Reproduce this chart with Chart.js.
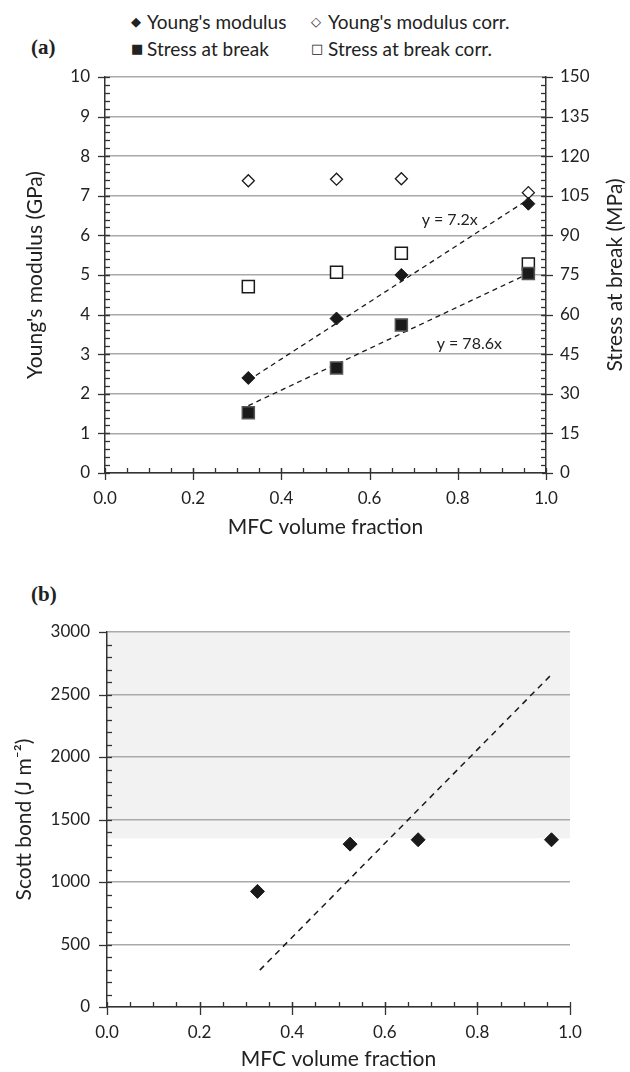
<!DOCTYPE html>
<html>
<head>
<meta charset="utf-8">
<script src="https://cdn.jsdelivr.net/npm/chart.js@4.4.1/dist/chart.umd.min.js"></script>
<style>
  body{margin:0;width:630px;height:1072px;background:#fff;position:relative;overflow:hidden;font-family:Lato,sans-serif;color:#222}
  canvas{position:absolute;left:0}
  #chA{top:0}
  #chB{top:560px}
  .tag{position:absolute;left:31px;font-family:"Liberation Serif",serif;font-weight:bold;font-size:21px;line-height:1}
  .leg{position:absolute;font-size:19px;line-height:1;white-space:nowrap}
  .sym{position:absolute;font-family:"DejaVu Sans",sans-serif;font-size:13px;line-height:1}
</style>
</head>
<body>
<span class="tag" style="top:37px">(a)</span>
<span class="tag" style="top:584px">(b)</span>

<span class="sym" style="left:131px;top:15px">◆</span><span class="leg" style="left:147px;top:12px">Young's modulus</span>
<span class="sym" style="left:311px;top:15px">◇</span><span class="leg" style="left:328px;top:12px">Young's modulus corr.</span>
<span class="sym" style="left:131px;top:42px">■</span><span class="leg" style="left:147px;top:39px">Stress at break</span>
<span class="sym" style="left:311px;top:42px">□</span><span class="leg" style="left:328px;top:39px">Stress at break corr.</span>

<canvas id="chA" width="630" height="550"></canvas>
<canvas id="chB" width="630" height="512"></canvas>

<script>
// ---- data ----
const fracX        = [0.325, 0.525, 0.672, 0.96];      // MFC volume fraction
const youngs       = [2.4, 3.9, 5.0, 6.8];             // GPa
const youngsCorr   = [7.38, 7.42, 7.43, 7.08];         // GPa
const stress       = [22.8, 39.8, 56.1, 75.6];         // MPa
const stressCorr   = [70.6, 76.0, 83.2, 79.2];         // MPa
const fitX         = [0.325, 0.96];
const youngsFit    = [2.34, 6.91];                     // y = 7.2x
const stressFit    = [25.5, 75.5];                     // y = 78.6x
const scott        = [925, 1303, 1338, 1338];          // J m-2
const scottFitX    = [0.33, 0.96];
const scottFit     = [295, 2660];
const scottBand    = [1350, 3000];                     // shaded range
const fracTicks    = [0, 0.2, 0.4, 0.6, 0.8, 1.0];

const pts = (xs, ys) => xs.map((x, i) => ({x, y: ys[i]}));
const INK = '#1a1a1a', GRID = '#a9a9a9', AXIS = '#333';
const tickFont = {family: 'Lato', size: 17};
const titleFont = {family: 'Lato', size: 21};

// tick marks: major crossing the axis, minor ones inside
const tickMarks = {
  id: 'tickMarks',
  afterDraw(chart, args, opts){
    const ctx = chart.ctx;
    ctx.save(); ctx.strokeStyle = AXIS; ctx.lineWidth = 1.3;
    for (const sp of opts.axes || []){
      const s = chart.scales[sp.id];
      const horiz = s.isHorizontal();
      const base = horiz ? s.top : (s.position === 'left' ? s.right : s.left);
      const dir = horiz ? 1 : (s.position === 'left' ? -1 : 1);
      const mark = (v, out, inn) => {
        const p = Math.round(s.getPixelForValue(v)) + 0.5;
        ctx.beginPath();
        if (horiz){ ctx.moveTo(p, base - inn); ctx.lineTo(p, base + out); }
        else { ctx.moveTo(base - dir*inn, p); ctx.lineTo(base + dir*out, p); }
        ctx.stroke();
      };
      s.ticks.forEach(t => mark(t.value, sp.out, sp.inn));
      const n = Math.round((s.max - s.min) / sp.minor);
      for (let i = 1; i < n; i++) mark(s.min + i*sp.minor, 0, sp.minorLen);
    }
    ctx.restore();
  }
};

// text next to the fitted lines
const fitLabels = {
  id: 'fitLabels',
  afterDatasetsDraw(chart, args, opts){
    const ctx = chart.ctx;
    ctx.save(); ctx.fillStyle = '#222'; ctx.font = '16px Lato'; ctx.textBaseline = 'middle';
    for (const l of opts.items || []){
      ctx.fillText(l.text, chart.scales.x.getPixelForValue(l.x), chart.scales[l.axis].getPixelForValue(l.y));
    }
    ctx.restore();
  }
};

// right-hand axis title, read bottom to top like the left one
const sideTitle = {
  id: 'sideTitle',
  afterDraw(chart, args, opts){
    if (!opts.text) return;
    const s = chart.scales[opts.axis], ctx = chart.ctx;
    ctx.save();
    ctx.translate(s.right - opts.offset, (s.top + s.bottom) / 2);
    ctx.rotate(-Math.PI / 2);
    ctx.fillStyle = '#222'; ctx.font = titleFont.size + 'px ' + titleFont.family;
    ctx.textAlign = 'center'; ctx.textBaseline = 'middle';
    ctx.fillText(opts.text, 0, 0);
    ctx.restore();
  }
};

// grey band behind the grid
const band = {
  id: 'band',
  beforeDraw(chart, args, opts){
    if (!opts.range) return;
    const {ctx, chartArea: a, scales: {y}} = chart;
    const t = y.getPixelForValue(opts.range[1]), b = y.getPixelForValue(opts.range[0]);
    ctx.save(); ctx.fillStyle = opts.color; ctx.fillRect(a.left, t, a.right - a.left, b - t); ctx.restore();
  }
};

const xScale = (h, titlePad) => ({
  type: 'linear', min: 0, max: 1,
  afterBuildTicks: s => { s.ticks = fracTicks.map(v => ({value: v})); },
  ticks: {font: tickFont, color: '#222', padding: 15, callback: v => Number(v).toFixed(1)},
  grid: {color: 'rgba(0,0,0,0)', drawTicks: false},
  border: {color: AXIS, width: 1.5},
  title: {display: true, text: 'MFC volume fraction', font: titleFont, color: '#222', padding: {top: 0, bottom: titlePad}},
  afterFit: s => { s.height = h; }
});

new Chart(document.getElementById('chA'), {
  type: 'scatter',
  data: {datasets: [
    {label: "Young's modulus", data: pts(fracX, youngs), yAxisID: 'y', pointStyle: 'rectRot', pointRadius: 6.5, backgroundColor: INK, borderColor: INK, borderWidth: 1},
    {label: "Young's modulus corr.", data: pts(fracX, youngsCorr), yAxisID: 'y', pointStyle: 'rectRot', pointRadius: 6, backgroundColor: '#fff', borderColor: INK, borderWidth: 1.3},
    {label: 'Stress at break', data: pts(fracX, stress), yAxisID: 'y2', pointStyle: 'rect', pointRadius: 8.5, backgroundColor: INK, borderColor: '#555', borderWidth: 1.5},
    {label: 'Stress at break corr.', data: pts(fracX, stressCorr), yAxisID: 'y2', pointStyle: 'rect', pointRadius: 8.5, backgroundColor: '#fff', borderColor: INK, borderWidth: 1.5},
    {label: 'fit E', data: pts(fitX, youngsFit), yAxisID: 'y', showLine: true, pointRadius: 0, borderColor: INK, borderWidth: 1.3, borderDash: [5, 4]},
    {label: 'fit S', data: pts(fitX, stressFit), yAxisID: 'y2', showLine: true, pointRadius: 0, borderColor: INK, borderWidth: 1.3, borderDash: [5, 4]}
  ]},
  options: {
    responsive: false, animation: false, devicePixelRatio: 1,
    layout: {padding: {top: 77, left: 0, right: 0, bottom: 0}},
    plugins: {
      legend: {display: false}, tooltip: {enabled: false},
      tickMarks: {axes: [
        {id: 'x', out: 7, inn: 5, minor: 0.05, minorLen: 5},
        {id: 'y', out: 7, inn: 5, minor: 0.2, minorLen: 5},
        {id: 'y2', out: 7, inn: 4, minor: 3, minorLen: 5}
      ]},
      fitLabels: {items: [
        {text: 'y = 7.2x', x: 0.718, y: 6.39, axis: 'y'},
        {text: 'y = 78.6x', x: 0.752, y: 48.8, axis: 'y2'}
      ]},
      sideTitle: {axis: 'y2', text: 'Stress at break (MPa)', offset: 15}
    },
    scales: {
      x: xScale(77, 10),
      y: {
        position: 'left', min: 0, max: 10,
        ticks: {stepSize: 1, font: tickFont, color: '#222', padding: 15},
        grid: {color: GRID, lineWidth: 1.5, drawTicks: false},
        border: {color: AXIS, width: 1.5},
        title: {display: true, text: "Young's modulus (GPa)", font: titleFont, color: '#222', padding: {top: 23, bottom: 0}},
        afterFit: s => { s.width = 105; }
      },
      y2: {
        position: 'right', min: 0, max: 150,
        ticks: {stepSize: 15, font: tickFont, color: '#222', padding: 14},
        grid: {display: false, drawTicks: false},
        border: {color: AXIS, width: 1.5},
        afterFit: s => { s.width = 84; }
      }
    }
  },
  plugins: [tickMarks, fitLabels, sideTitle]
});

new Chart(document.getElementById('chB'), {
  type: 'scatter',
  data: {datasets: [
    {label: 'Scott bond', data: pts(fracX, scott), pointStyle: 'rectRot', pointRadius: 7, backgroundColor: INK, borderColor: INK, borderWidth: 1},
    {label: 'fit', data: pts(scottFitX, scottFit), showLine: true, pointRadius: 0, borderColor: INK, borderWidth: 1.5, borderDash: [6, 5]}
  ]},
  options: {
    responsive: false, animation: false, devicePixelRatio: 1,
    layout: {padding: {top: 72, left: 0, right: 60, bottom: 0}},
    plugins: {
      legend: {display: false}, tooltip: {enabled: false},
      band: {range: scottBand, color: '#f2f2f2'},
      tickMarks: {axes: [
        {id: 'x', out: 8, inn: 5, minor: 0.05, minorLen: 5},
        {id: 'y', out: 8, inn: 0, minor: 100, minorLen: 5}
      ]}
    },
    scales: {
      x: xScale(65, 0),
      y: {
        position: 'left', min: 0, max: 3000,
        ticks: {stepSize: 500, font: tickFont, color: '#222', padding: 17, callback: v => String(v)},
        grid: {color: GRID, lineWidth: 1.5, drawTicks: false},
        border: {color: AXIS, width: 1.5},
        title: {display: true, text: 'Scott bond (J m⁻²)', font: titleFont, color: '#222', padding: {top: 12, bottom: 0}},
        afterFit: s => { s.width = 107; }
      }
    }
  },
  plugins: [band, tickMarks]
});
</script>
</body>
</html>
